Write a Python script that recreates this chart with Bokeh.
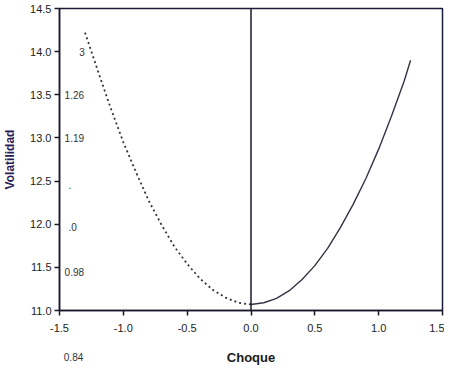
from bokeh.plotting import figure
from bokeh.models import FixedTicker, PrintfTickFormatter, Span, Label, Range1d, LinearAxis
from bokeh.embed import file_html
from bokeh.resources import INLINE

# Data
neg_shock = [-1.30, -1.20, -1.10, -1.00, -0.90, -0.80, -0.70, -0.60, -0.50, -0.40, -0.30, -0.20, -0.10, 0.00]
neg_vol = [14.22, 13.78, 13.35, 12.95, 12.60, 12.27, 11.99, 11.74, 11.54, 11.37, 11.24, 11.15, 11.09, 11.07]
pos_shock = [0.00, 0.10, 0.20, 0.30, 0.40, 0.50, 0.60, 0.70, 0.80, 0.90, 1.00, 1.10, 1.20, 1.25]
pos_vol = [11.07, 11.09, 11.14, 11.23, 11.36, 11.52, 11.72, 11.96, 12.23, 12.53, 12.87, 13.25, 13.66, 13.90]

x_ticks = [-1.5, -1.0, -0.5, 0.0, 0.5, 1.0, 1.5]
y_ticks = [11.0, 11.5, 12.0, 12.5, 13.0, 13.5, 14.0, 14.5]

# stray annotations in the picture
note_texts = ["3", "1.26", "1.19", ".", ".0", "0.98"]
note_x = [-1.345, -1.46, -1.46, -1.43, -1.43, -1.46]
note_y = [14.0, 13.5, 13.0, 12.45, 11.97, 11.45]
bottom_note = "0.84"
bottom_note_x = -1.39

FONT = "Liberation Sans"
INK = "#222222"

p = figure(width=444, height=367, output_backend="svg", toolbar_location=None,
           x_range=Range1d(-1.5, 1.5), y_range=Range1d(11.0, 14.5),
           min_border_left=50, min_border_right=2, min_border_top=8, min_border_bottom=52)
p.background_fill_color = "white"
p.border_fill_color = "white"
p.outline_line_color = "#1a1a3a"
p.outline_line_width = 1.5
p.grid.visible = False

for ax in (p.xaxis[0], p.yaxis[0]):
    ax.axis_line_color = "#1a1a2a"
    ax.axis_line_width = 1.5
    ax.major_tick_line_color = "#1a1a2a"
    ax.major_tick_line_width = 1.5
    ax.major_tick_in = 0
    ax.major_tick_out = 5
    ax.minor_tick_line_color = None
    ax.major_label_text_font = FONT
    ax.major_label_text_font_size = "11px"
    ax.major_label_text_color = INK
    ax.formatter = PrintfTickFormatter(format="%.1f")
    ax.axis_label_text_font = FONT
    ax.axis_label_text_font_style = "bold"

p.xaxis.ticker = FixedTicker(ticks=x_ticks)
p.yaxis.ticker = FixedTicker(ticks=y_ticks)
p.xaxis.major_label_standoff = 8
p.yaxis.major_label_standoff = 3
p.yaxis.axis_label = "Volatilidad"
p.yaxis.axis_label_text_font_size = "12px"
p.yaxis.axis_label_text_color = "#2a1a55"
p.yaxis.axis_label_standoff = 10

ax2 = LinearAxis(ticker=FixedTicker(ticks=[bottom_note_x]),
                 major_label_overrides={bottom_note_x: bottom_note},
                 axis_line_color=None, major_tick_line_color=None, minor_tick_line_color=None,
                 major_label_standoff=12, major_label_text_font=FONT,
                 major_label_text_font_size="10px", major_label_text_color="#333333",
                 axis_label="Choque", axis_label_text_font=FONT, axis_label_text_font_style="bold",
                 axis_label_text_font_size="13px", axis_label_text_color="#1a1a1a",
                 axis_label_standoff=-14)
p.add_layout(ax2, "below")

p.add_layout(Span(location=0, dimension="height", line_color="#1a1a2a", line_width=1.5))

p.line(neg_shock, neg_vol, line_color="#333344", line_width=1.8, line_dash="2 3")
p.line(pos_shock, pos_vol, line_color="#333344", line_width=1.4)

for t, x, y in zip(note_texts, note_x, note_y):
    p.add_layout(Label(x=x, y=y, text=t, text_font=FONT, text_font_size="10px",
                       text_color="#333333", text_baseline="middle", text_align="left"))

open("out.html", "w").write(file_html(p, INLINE))
